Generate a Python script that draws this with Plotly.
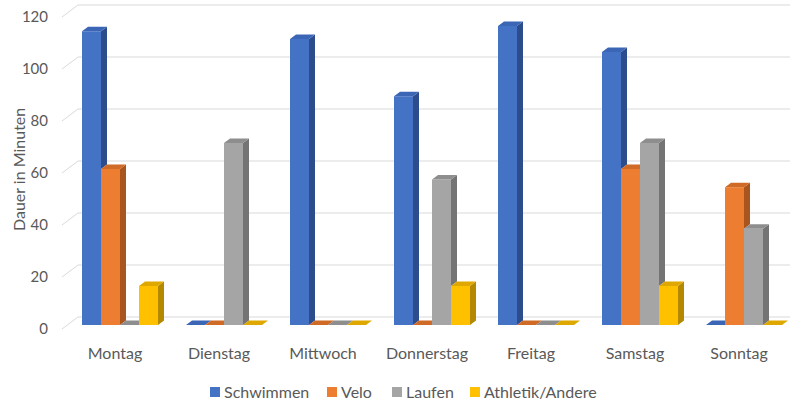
import plotly.graph_objects as go

days = ["Montag", "Dienstag", "Mittwoch", "Donnerstag", "Freitag", "Samstag", "Sonntag"]
series_names = ["Schwimmen", "Velo", "Laufen", "Athletik/Andere"]
schwimmen = [113, 0, 110, 88, 115, 105, 0]
velo = [60, 0, 0, 0, 0, 60, 53]
laufen = [0, 70, 0, 56, 0, 70, 37]
athletik = [15, 0, 0, 15, 0, 15, 0]
y_ticks = [0, 20, 40, 60, 80, 100, 120]

values = [schwimmen, velo, laufen, athletik]
front_cols = ["#4472C4", "#ED7D31", "#A5A5A5", "#FFC000"]
top_cols = ["#3B66B5", "#CF6A27", "#8E8E8E", "#DFA800"]
side_cols = ["#2C4C8C", "#A9561E", "#747474", "#B48800"]

# pixel geometry -> data units
W, H = 803, 403
ML, MR, MT, MB = 62, 13, 0, 63
plot_w = W - ML - MR
plot_h = H - MT - MB
px_per_cat = 104.0
first_center_px = 120.0
px_per_unit = 2.6
zero_px = 325.0

x0 = (ML - first_center_px) / px_per_cat
x1 = (W - MR - first_center_px) / px_per_cat
y_top = (zero_px - MT) / px_per_unit
y_bot = -(MT + plot_h - zero_px) / px_per_unit

bw = 19.0 / px_per_cat            # bar width in data units
ddx = 6.0 / px_per_cat            # bar depth offset x
ddy = 4.5 / px_per_unit           # bar depth offset y
slope = ddy / ddx
wall_dx = 16.0 / px_per_cat       # back wall offset
wall_dy = 12.0 / px_per_unit
front_lvl = 4.0 / px_per_unit     # front floor is 4px below bar base

fig = go.Figure()

# gridlines on the back wall (shapes below the data)
shapes = []
for v in y_ticks:
    yb = v + wall_dy - front_lvl
    yf = v - front_lvl
    shapes.append(dict(type="line", xref="x", yref="y", layer="below",
                       x0=x0 + wall_dx, x1=x1, y0=yb, y1=yb,
                       line=dict(color="#D9D9D9", width=1)))
    shapes.append(dict(type="line", xref="x", yref="y", layer="below",
                       x0=x0, x1=x0 + wall_dx, y0=yf, y1=yb,
                       line=dict(color="#D9D9D9", width=1)))

# front faces as bar traces
for k, (name, vals) in enumerate(zip(series_names, values)):
    fig.add_trace(go.Bar(
        x=list(range(len(days))), y=vals, name=name,
        width=bw, offset=-2 * bw + k * bw,
        marker=dict(color=front_cols[k], line=dict(width=0)),
        hovertemplate="%{y}<extra>" + name + "</extra>",
        showlegend=False,
    ))

# side and top faces (clipped by the neighbouring bar in front)
for k in range(4):
    sx, sy, tx, ty = [], [], [], []
    for i in range(len(days)):
        h = values[k][i]
        hn = values[k + 1][i] if k < 3 else None
        xl = i - 2 * bw + k * bw
        xr = xl + bw
        lo = 0 if hn is None else hn
        if h > lo:
            sx += [xr, xr, xr + ddx, xr + ddx, xr, None]
            sy += [lo, h, h + ddy, lo + ddy, lo, None]
        if hn is None or hn <= h:
            tx += [xl, xr, xr + ddx, xl + ddx, xl, None]
            ty += [h, h, h + ddy, h + ddy, h, None]
        elif hn >= h + ddy:
            tx += [xl, xr, xr, xl + ddx, xl, None]
            ty += [h, h, h + ddy, h + ddy, h, None]
        else:
            xc = xr + (h + ddy - hn) / slope
            tx += [xl, xr, xr, xc, xl + ddx, xl, None]
            ty += [h, h, hn, h + ddy, h + ddy, h, None]
    fig.add_trace(go.Scatter(x=sx, y=sy, mode="lines", fill="toself",
                             fillcolor=side_cols[k], line=dict(width=0, color=side_cols[k]),
                             showlegend=False, hoverinfo="skip"))
    fig.add_trace(go.Scatter(x=tx, y=ty, mode="lines", fill="toself",
                             fillcolor=top_cols[k], line=dict(width=0, color=top_cols[k]),
                             showlegend=False, hoverinfo="skip"))

# legend (square swatch + text), positioned in pixels below the plot
legend_left_px = [210, 327, 392, 470]
legend_y_px = 392
sq = 10
annotations = []
def px_to_paper_x(px):
    return (px - ML) / plot_w
def px_to_paper_y(py):
    return (MT + plot_h - py) / plot_h
for k, name in enumerate(series_names):
    lx = legend_left_px[k]
    shapes.append(dict(type="rect", xref="paper", yref="paper",
                       x0=px_to_paper_x(lx), x1=px_to_paper_x(lx + sq),
                       y0=px_to_paper_y(legend_y_px + sq / 2),
                       y1=px_to_paper_y(legend_y_px - sq / 2),
                       fillcolor=front_cols[k], line=dict(width=0)))
    annotations.append(dict(xref="paper", yref="paper",
                            x=px_to_paper_x(lx + sq + 2), y=px_to_paper_y(legend_y_px),
                            xanchor="left", yanchor="middle", showarrow=False,
                            text=name, font=dict(size=16, color="#595959")))

# y axis title
annotations.append(dict(xref="paper", yref="paper", x=px_to_paper_x(18),
                        y=px_to_paper_y(170), xanchor="center", yanchor="middle",
                        textangle=-90, showarrow=False, text="Dauer in Minuten",
                        font=dict(size=16, color="#595959")))

label_shift = 5.0 / px_per_cat
fig.update_layout(
    width=W, height=H,
    margin=dict(l=ML, r=MR, t=MT, b=MB),
    paper_bgcolor="white", plot_bgcolor="white",
    barmode="overlay",
    font=dict(family="Lato, 'Open Sans', sans-serif", size=15, color="#595959"),
    shapes=shapes,
    annotations=annotations,
    showlegend=False,
    xaxis=dict(range=[x0, x1], showgrid=False, zeroline=False, showline=False,
               tickmode="array", tickvals=[i - label_shift for i in range(len(days))],
               ticktext=days, ticks="", ticklabelstandoff=2, fixedrange=True,
               tickfont=dict(size=16)),
    yaxis=dict(range=[y_bot, y_top], showgrid=False, zeroline=False, showline=False,
               tickmode="array", tickvals=[v - front_lvl for v in y_ticks],
               ticktext=[str(v) for v in y_ticks], ticks="", ticklabelstandoff=13,
               fixedrange=True, tickfont=dict(size=15)),
)

fig.write_html("out.html")
